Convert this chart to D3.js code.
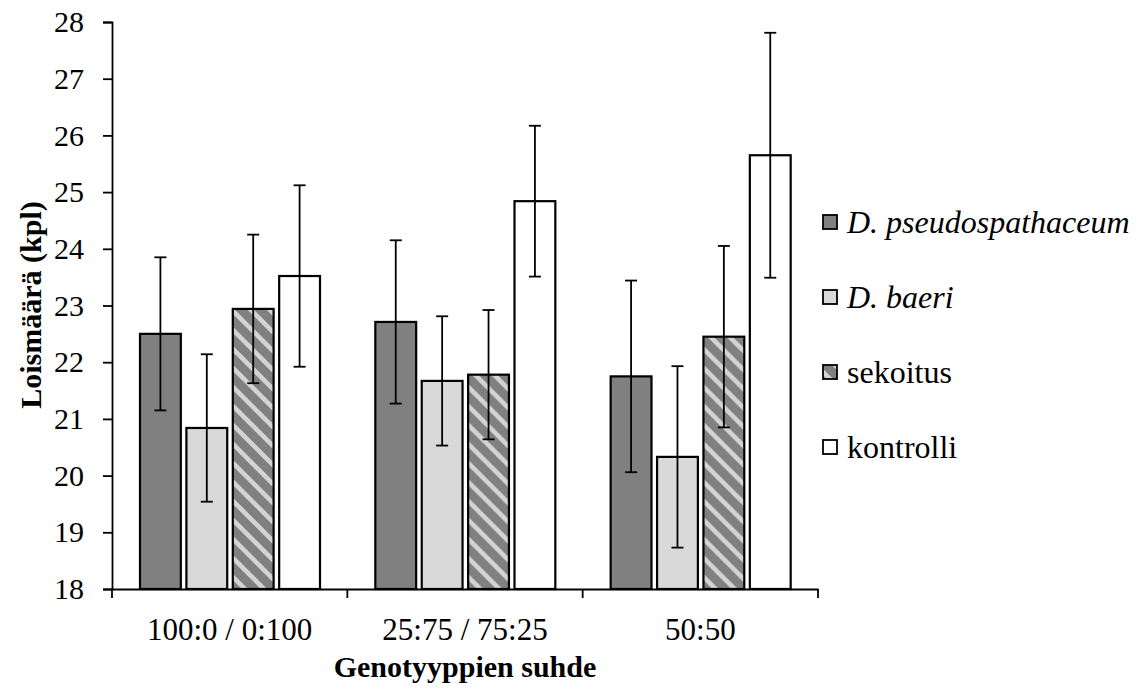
<!DOCTYPE html>
<html>
<head>
<meta charset="utf-8">
<title>Loismäärä</title>
<style>
	body { margin: 0; background: #fff; }
</style>
<script src="https://d3js.org/d3.v7.min.js"></script>
</head>
<body>
<svg id="chart" width="1138" height="689" font-family="Liberation Serif, Times New Roman, serif"></svg>
<script>
	// data
	const categories = ['100:0 / 0:100', '25:75 / 75:25', '50:50'];
	const seriesNames = ['D. pseudospathaceum', 'D. baeri', 'sekoitus', 'kontrolli'];
	const italicSeries = [true, true, false, false];
	const means = [
		[22.50, 20.84, 22.94, 23.52],
		[22.71, 21.67, 21.78, 24.84],
		[21.75, 20.33, 22.45, 25.65]
	];
	const errors = [
		[1.35, 1.30, 1.31, 1.60],
		[1.44, 1.14, 1.14, 1.33],
		[1.69, 1.60, 1.60, 2.16]
	];
	const yTicks = [18, 19, 20, 21, 22, 23, 24, 25, 26, 27, 28];

	const fills = ['#808080', '#d9d9d9', 'url(#hatch)', '#ffffff'];
	const FONT = 'Liberation Serif, Times New Roman, serif';

	const svg = d3.select('#chart');

	// hatch pattern for "sekoitus"
	const defs = svg.append('defs');
	const pat = defs.append('pattern')
		.attr('id', 'hatch')
		.attr('patternUnits', 'userSpaceOnUse')
		.attr('width', 19).attr('height', 19);
	pat.append('rect').attr('width', 19).attr('height', 19).attr('fill', '#808080');
	pat.append('path')
		.attr('d', 'M-2,-2 L21,21 M-7,12 L7,26 M12,-7 L26,7')
		.attr('stroke', '#d4d4d4').attr('stroke-width', 4.5);

	const x0 = d3.scaleBand().domain(categories).range([112, 818]);
	const x1 = d3.scaleBand().domain(seriesNames).range([28, 208]).paddingInner(0.12);
	const y = d3.scaleLinear().domain([18, 28]).range([589, 22]);

	// y axis
	const yAxis = svg.append('g')
		.attr('transform', 'translate(112,0)')
		.call(d3.axisLeft(y).tickValues(yTicks).tickSize(9).tickPadding(19).tickFormat(d3.format('d')))
		.attr('font-family', FONT).attr('font-size', 30);
	yAxis.selectAll('.domain, .tick line').attr('stroke', '#000').attr('stroke-width', 1.8);
	yAxis.selectAll('.tick text').attr('fill', '#000');

	// bars
	const groups = svg.selectAll('g.group')
		.data(categories)
		.join('g')
		.attr('class', 'group')
		.attr('transform', d => `translate(${x0(d)},0)`);

	groups.each(function(cat, ci) {
		const g = d3.select(this);
		const rows = seriesNames.map((s, si) => ({ s, si, v: means[ci][si], e: errors[ci][si] }));
		g.selectAll('rect')
			.data(rows)
			.join('rect')
			.attr('x', d => x1(d.s))
			.attr('y', d => y(d.v))
			.attr('width', x1.bandwidth())
			.attr('height', d => y(18) - y(d.v))
			.attr('fill', d => fills[d.si])
			.attr('stroke', '#000')
			.attr('stroke-width', 2.2);

		const eb = g.selectAll('g.err')
			.data(rows)
			.join('g')
			.attr('class', 'err')
			.attr('transform', d => `translate(${x1(d.s) + x1.bandwidth() / 2},0)`);
		eb.append('line')
			.attr('y1', d => y(d.v + d.e)).attr('y2', d => y(d.v - d.e))
			.attr('stroke', '#000').attr('stroke-width', 1.8);
		eb.append('line')
			.attr('x1', -6).attr('x2', 6)
			.attr('y1', d => y(d.v + d.e)).attr('y2', d => y(d.v + d.e))
			.attr('stroke', '#000').attr('stroke-width', 1.8);
		eb.append('line')
			.attr('x1', -6).attr('x2', 6)
			.attr('y1', d => y(d.v - d.e)).attr('y2', d => y(d.v - d.e))
			.attr('stroke', '#000').attr('stroke-width', 1.8);
	});

	// x axis
	const xAxis = svg.append('g')
		.attr('transform', 'translate(0,589)')
		.call(d3.axisBottom(x0).tickSize(0))
		.attr('font-family', FONT).attr('font-size', 31);
	xAxis.select('.domain').attr('stroke', '#000').attr('stroke-width', 1.8);
	xAxis.selectAll('.tick text').attr('fill', '#000').attr('y', 51).attr('dy', 0);
	const xBounds = categories.map(c => x0(c)).concat([x0.range()[1]]);
	xAxis.selectAll('line.sep')
		.data(xBounds)
		.join('line')
		.attr('class', 'sep')
		.attr('x1', d => d).attr('x2', d => d)
		.attr('y1', 0).attr('y2', 9)
		.attr('stroke', '#000').attr('stroke-width', 1.8);

	// axis titles
	svg.append('text')
		.attr('x', 465).attr('y', 677)
		.attr('text-anchor', 'middle')
		.attr('font-size', 30).attr('font-weight', 'bold')
		.text('Genotyyppien suhde');
	svg.append('text')
		.attr('transform', 'translate(41,305) rotate(-90)')
		.attr('text-anchor', 'middle')
		.attr('font-size', 30).attr('font-weight', 'bold')
		.text('Loismäärä (kpl)');

	// legend
	const legend = svg.append('g')
		.attr('transform', 'translate(823,0)');
	const li = legend.selectAll('g')
		.data(seriesNames)
		.join('g')
		.attr('transform', (d, i) => `translate(0,${222 + i * 75})`);
	li.append('rect')
		.attr('x', 0).attr('y', -7)
		.attr('width', 14).attr('height', 14)
		.attr('fill', (d, i) => fills[i])
		.attr('stroke', '#000').attr('stroke-width', 1.8);
	li.append('text')
		.attr('x', 24).attr('y', 11)
		.attr('font-size', 32)
		.attr('font-style', (d, i) => italicSeries[i] ? 'italic' : 'normal')
		.text(d => d);
</script>
</body>
</html>
